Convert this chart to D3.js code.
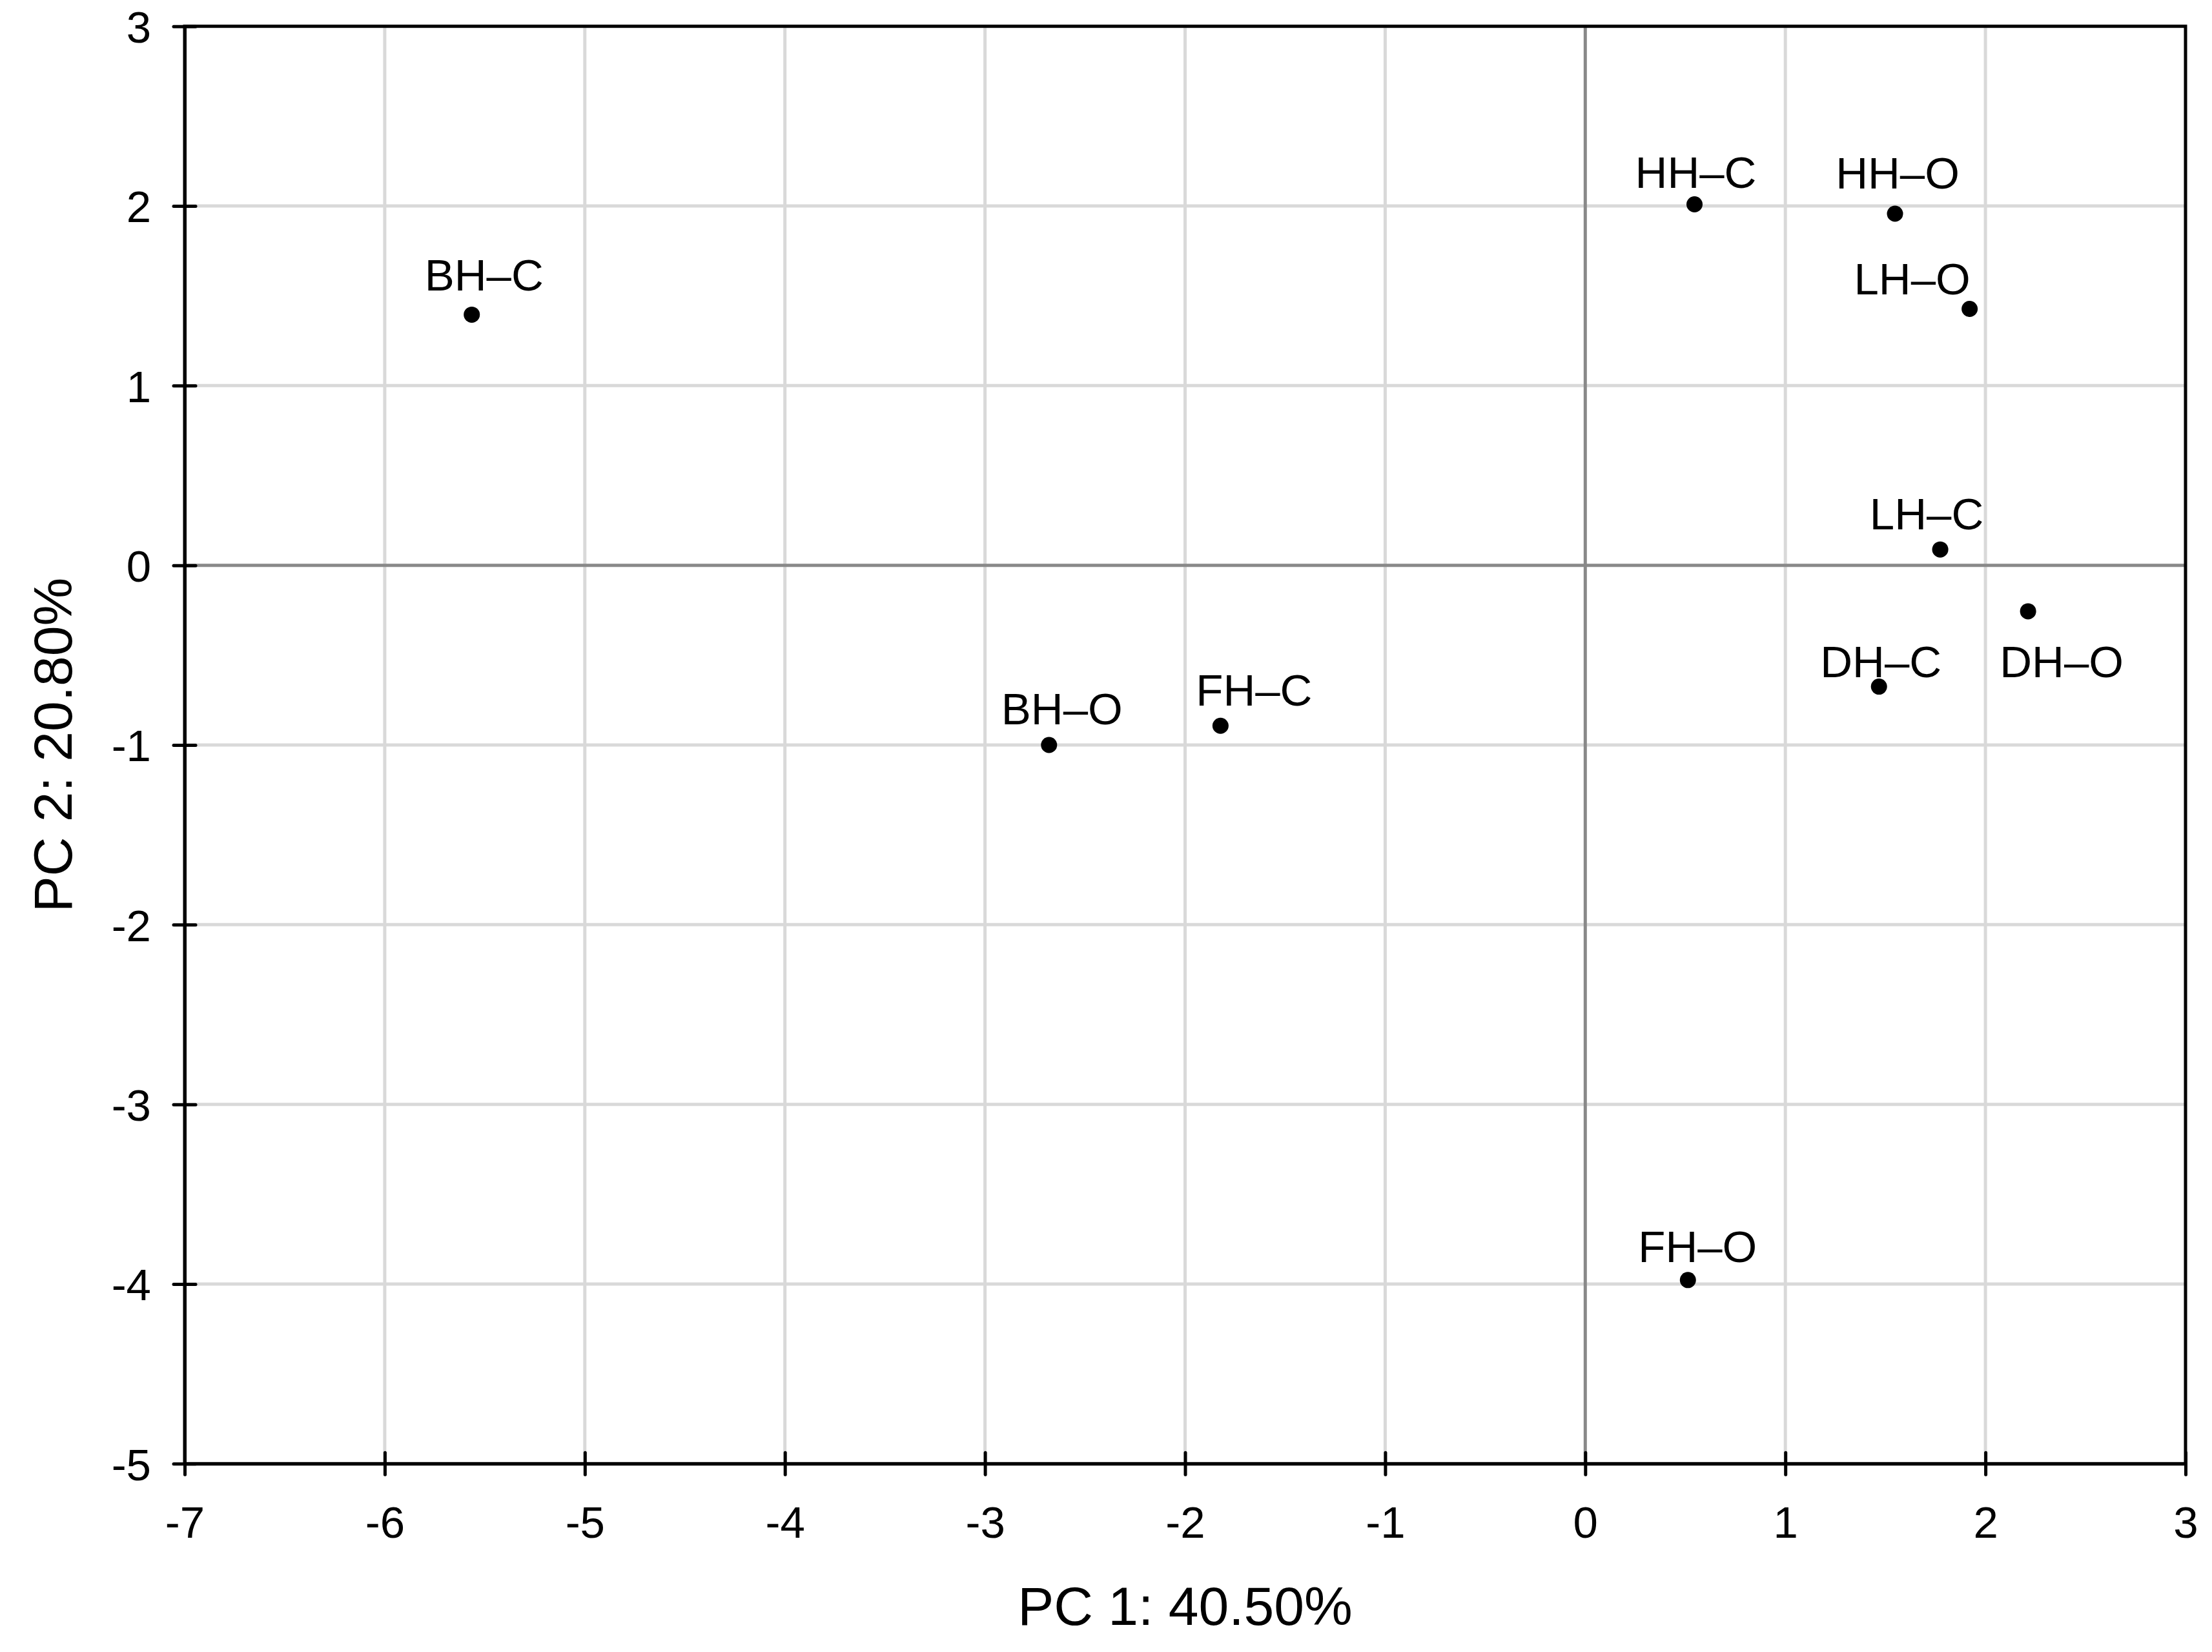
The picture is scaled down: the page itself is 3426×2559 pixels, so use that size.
<!DOCTYPE html>
<html>
<head>
<meta charset="utf-8">
<script src="https://cdn.jsdelivr.net/npm/d3@7"></script>
<style>
  html, body { margin: 0; padding: 0; background: #fff; }
  svg { display: block; }
  text { font-family: "Liberation Sans", Arial, Helvetica, sans-serif; fill: #000; }
</style>
</head>
<body>
<script>
// ---- data ----
const samples = ["BH–C", "BH–O", "FH–C", "FH–O", "HH–C", "HH–O", "LH–O", "LH–C", "DH–O", "DH–C"];
const pc1 = [-5.565, -2.680, -1.823, 0.513, 0.546, 1.548, 1.921, 1.774, 2.213, 1.468];
const pc2 = [1.395, -1.000, -0.893, -3.978, 2.009, 1.957, 1.427, 0.088, -0.256, -0.675];
const xTicks = [-7, -6, -5, -4, -3, -2, -1, 0, 1, 2, 3];
const yTicks = [-5, -4, -3, -2, -1, 0, 1, 2, 3];
const xTitle = "PC 1: 40.50%";
const yTitle = "PC 2: 20.80%";

// ---- layout (label nudges in px, as placed in the original) ----
const labelNudge = {
  "BH–C": [19, -37], "BH–O": [20, -32], "FH–C": [52, -31], "FH–O": [15, -28],
  "HH–C": [2, -26], "HH–O": [4, -39], "LH–O": [-89, -23], "LH–C": [-21, -31],
  "DH–O": [52, 102], "DH–C": [3, -15]
};

const W = 3426, H = 2559;
const L = 286, R = 3385, T = 40.7, B = 2267.3;

const svg = d3.select("body").append("svg").attr("width", W).attr("height", H);

const x = d3.scaleLinear().domain([-7, 3]).range([L, R]);
const y = d3.scaleLinear().domain([-5, 3]).range([B, T]);

const fmt = d => String(d);

// gridlines
const grid = svg.append("g");
grid.selectAll("line.vx").data(xTicks.filter(d => d > -7 && d < 3 && d !== 0)).join("line")
  .attr("x1", d => x(d)).attr("x2", d => x(d)).attr("y1", T).attr("y2", B)
  .attr("stroke", "#d9d9d9").attr("stroke-width", 5);
grid.selectAll("line.hy").data(yTicks.filter(d => d > -5 && d < 3 && d !== 0)).join("line")
  .attr("y1", d => y(d)).attr("y2", d => y(d)).attr("x1", L).attr("x2", R)
  .attr("stroke", "#d9d9d9").attr("stroke-width", 5);
// zero lines
grid.append("line").attr("x1", x(0)).attr("x2", x(0)).attr("y1", T).attr("y2", B)
  .attr("stroke", "#898989").attr("stroke-width", 5);
grid.append("line").attr("y1", y(0)).attr("y2", y(0)).attr("x1", L).attr("x2", R)
  .attr("stroke", "#898989").attr("stroke-width", 5);

// frame
svg.append("rect").attr("x", L).attr("y", T).attr("width", R - L).attr("height", B - T)
  .attr("fill", "none").attr("stroke", "#000").attr("stroke-width", 5);

// axes
const xAxis = svg.append("g").attr("transform", `translate(0,${B})`)
  .call(d3.axisBottom(x).tickValues(xTicks).tickFormat(fmt).tickSize(17).tickSizeOuter(0));
xAxis.select(".domain").attr("stroke", "#000").attr("stroke-width", 5);
xAxis.selectAll(".tick line").attr("y1", -17).attr("y2", 17)
  .attr("stroke", "#000").attr("stroke-width", 5).attr("stroke-linecap", "round");
xAxis.selectAll(".tick text").attr("y", 115).attr("dy", 0)
  .style("font-size", "69px").attr("fill", "#000");

const yAxis = svg.append("g").attr("transform", `translate(${L},0)`)
  .call(d3.axisLeft(y).tickValues(yTicks).tickFormat(fmt).tickSize(17).tickSizeOuter(0));
yAxis.select(".domain").attr("stroke", "#000").attr("stroke-width", 5);
yAxis.selectAll(".tick line").attr("x1", -17).attr("x2", 17)
  .attr("stroke", "#000").attr("stroke-width", 5).attr("stroke-linecap", "round");
yAxis.selectAll(".tick text").attr("x", -52).attr("dy", "0.36em")
  .style("font-size", "69px").attr("fill", "#000");

// titles
svg.append("text").attr("x", (L + R) / 2).attr("y", 2517)
  .attr("text-anchor", "middle").style("font-size", "84px").text(xTitle);
svg.append("text").attr("transform", `translate(111,${(T + B) / 2}) rotate(-90)`)
  .attr("text-anchor", "middle").style("font-size", "84px").text(yTitle);

// points
const pts = samples.map((s, i) => ({ name: s, px: pc1[i], py: pc2[i] }));
svg.append("g").selectAll("circle").data(pts).join("circle")
  .attr("cx", d => x(d.px)).attr("cy", d => y(d.py)).attr("r", 12.5).attr("fill", "#000");

svg.append("g").selectAll("text").data(pts).join("text")
  .attr("x", d => x(d.px) + labelNudge[d.name][0])
  .attr("y", d => y(d.py) + labelNudge[d.name][1])
  .attr("text-anchor", "middle").style("font-size", "69px")
  .text(d => d.name);
</script>
</body>
</html>
